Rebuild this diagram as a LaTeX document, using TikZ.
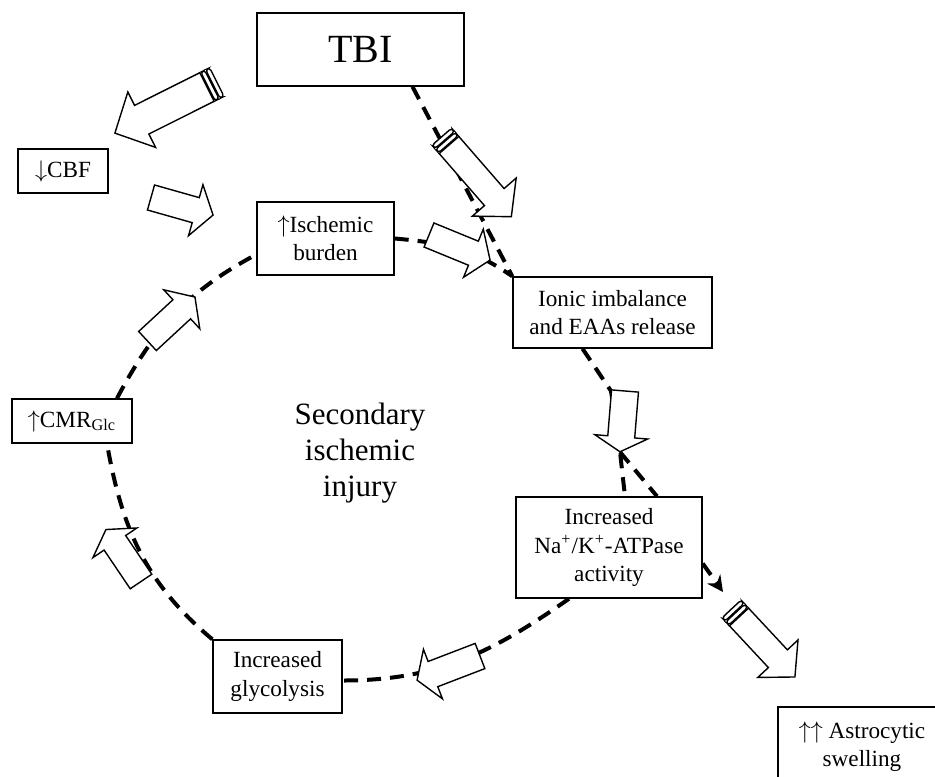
\documentclass[tikz,border=0pt]{standalone}
\usepackage{fontspec}
\setmainfont{Liberation Serif}
\usetikzlibrary{arrows.meta}
\tikzstyle{box} = [draw, rectangle, line width=0.7pt, fill=white, align=center, inner sep=1pt, font=\fontsize{11.6}{14.2}\selectfont]
\tikzstyle{dashline} = [line width=2pt, dash pattern=on 7pt off 4.5pt]
\tikzstyle{fat} = [draw, line width=0.7pt, fill=white]
% hollow block arrow: tail point, angle, length, shaft width, head width, head length
\newcommand{\fatarrow}[6]{%
  \begin{scope}[shift={#1}, rotate=#2]
    \path[fat] (0,-#4/2) -- (#3-#6,-#4/2) -- (#3-#6,-#5/2) -- (#3,0) -- (#3-#6,#5/2) -- (#3-#6,#4/2) -- (0,#4/2) -- cycle;
  \end{scope}}
% rolled bands at the tail of an arrow
\newcommand{\tailbands}[3]{%
  \begin{scope}[shift={#1}, rotate=#2]
    \path[fat, rounded corners=1.5pt] (-5.5,-#3/2) rectangle (-1,#3/2);
    \path[fat, rounded corners=1.5pt] (-11,-#3/2) rectangle (-6.5,#3/2);
  \end{scope}}

\begin{document}
\begin{tikzpicture}[x=0.5pt, y=0.5pt]
        \useasboundingbox (0,0) rectangle (935,-776);
        \clip (0,0) rectangle (935,-776);
        \node[box, minimum width=103.5pt, minimum height=36.5pt, font=\fontsize{20}{24}\selectfont] (tbi) at (360.5,-49.5) {TBI};
        \node[box, minimum width=45pt, minimum height=22pt] (cbf) at (63,-171) {$\downarrow$CBF};
        \node[box, minimum width=68.5pt, minimum height=36.5pt] (isch) at (325.5,-238.5) {$\uparrow$Ischemic\\burden};
        \node[box, minimum width=99.5pt, minimum height=35.5pt] (ionic) at (612.5,-312.5) {Ionic imbalance\\and EAAs release};
        \node[box, minimum width=93pt, minimum height=50.5pt] (nak) at (609,-547.5) {Increased\\Na\textsuperscript{+}/K\textsuperscript{+}-ATPase\\activity};
        \node[box, minimum width=60pt, minimum height=22pt] (cmr) at (72,-421) {$\uparrow$CMR\textsubscript{Glc}};
        \node[box, minimum width=64.5pt, minimum height=36.5pt] (glyc) at (277.5,-676.5) {Increased\\glycolysis};
        \node[box, minimum width=84pt, minimum height=39.5pt] (astro) at (862,-746.5) {$\uparrow\uparrow$ Astrocytic\\swelling};
        \node[font=\fontsize{15.5}{18}\selectfont, align=center] (sec) at (360,-453) {Secondary\\ischemic\\injury};
        \coordinate (t5a) at (611,-391);
        \coordinate (t5b) at (620,-452);
        \coordinate (t6) at (723,-592);
        \draw[dashline] ([xshift=26pt]tbi.south) -- (ionic.north west);
        \draw[dashline] (isch.east) to[out=-5, in=145] (ionic.north west);
        \draw[dashline] ([xshift=-15pt]ionic.south) -- (t5a) -- (t5b) -- ([xshift=8pt]nak.north);
        \draw[dashline] (t5b) -- ([xshift=24pt]nak.north);
        \draw[dashline, -{Stealth[length=8pt, width=8pt]}] ([yshift=-8pt]nak.east) -- (t6);
        \draw[dashline] ([xshift=-20pt]nak.south) to[out=215, in=0] ([yshift=-2pt]glyc.east);
        \draw[dashline] (glyc.north west) to[out=140, in=-80] ([xshift=17.5pt]cmr.south);
        \draw[dashline] ([xshift=22.5pt]cmr.north) to[out=62, in=208] ([yshift=-8pt]isch.west);
        \fatarrow{(207,-87)}{206.6}{103}{32}{62}{30}
        \tailbands{(207,-87)}{206.6}{32}
        \fatarrow{(151,-197.5)}{-15.8}{64.5}{26}{53}{18}
        \fatarrow{(449,-145)}{-49}{95}{26}{58}{26}
        \tailbands{(449,-145)}{-49}{26}
        \fatarrow{(429,-235)}{-22.3}{66}{26}{52}{18}
        \fatarrow{(625,-391)}{-94.7}{61}{27}{53}{15}
        \fatarrow{(739,-617)}{-47}{82}{26}{55}{25}
        \tailbands{(739,-617)}{-47}{26}
        \fatarrow{(147.5,-341)}{42.8}{64.7}{26}{53}{18}
        \fatarrow{(141,-581.5)}{124}{62.7}{26}{53}{16}
        \fatarrow{(480,-656)}{201}{67.4}{27}{53}{17}
    \end{tikzpicture}
\end{document}
